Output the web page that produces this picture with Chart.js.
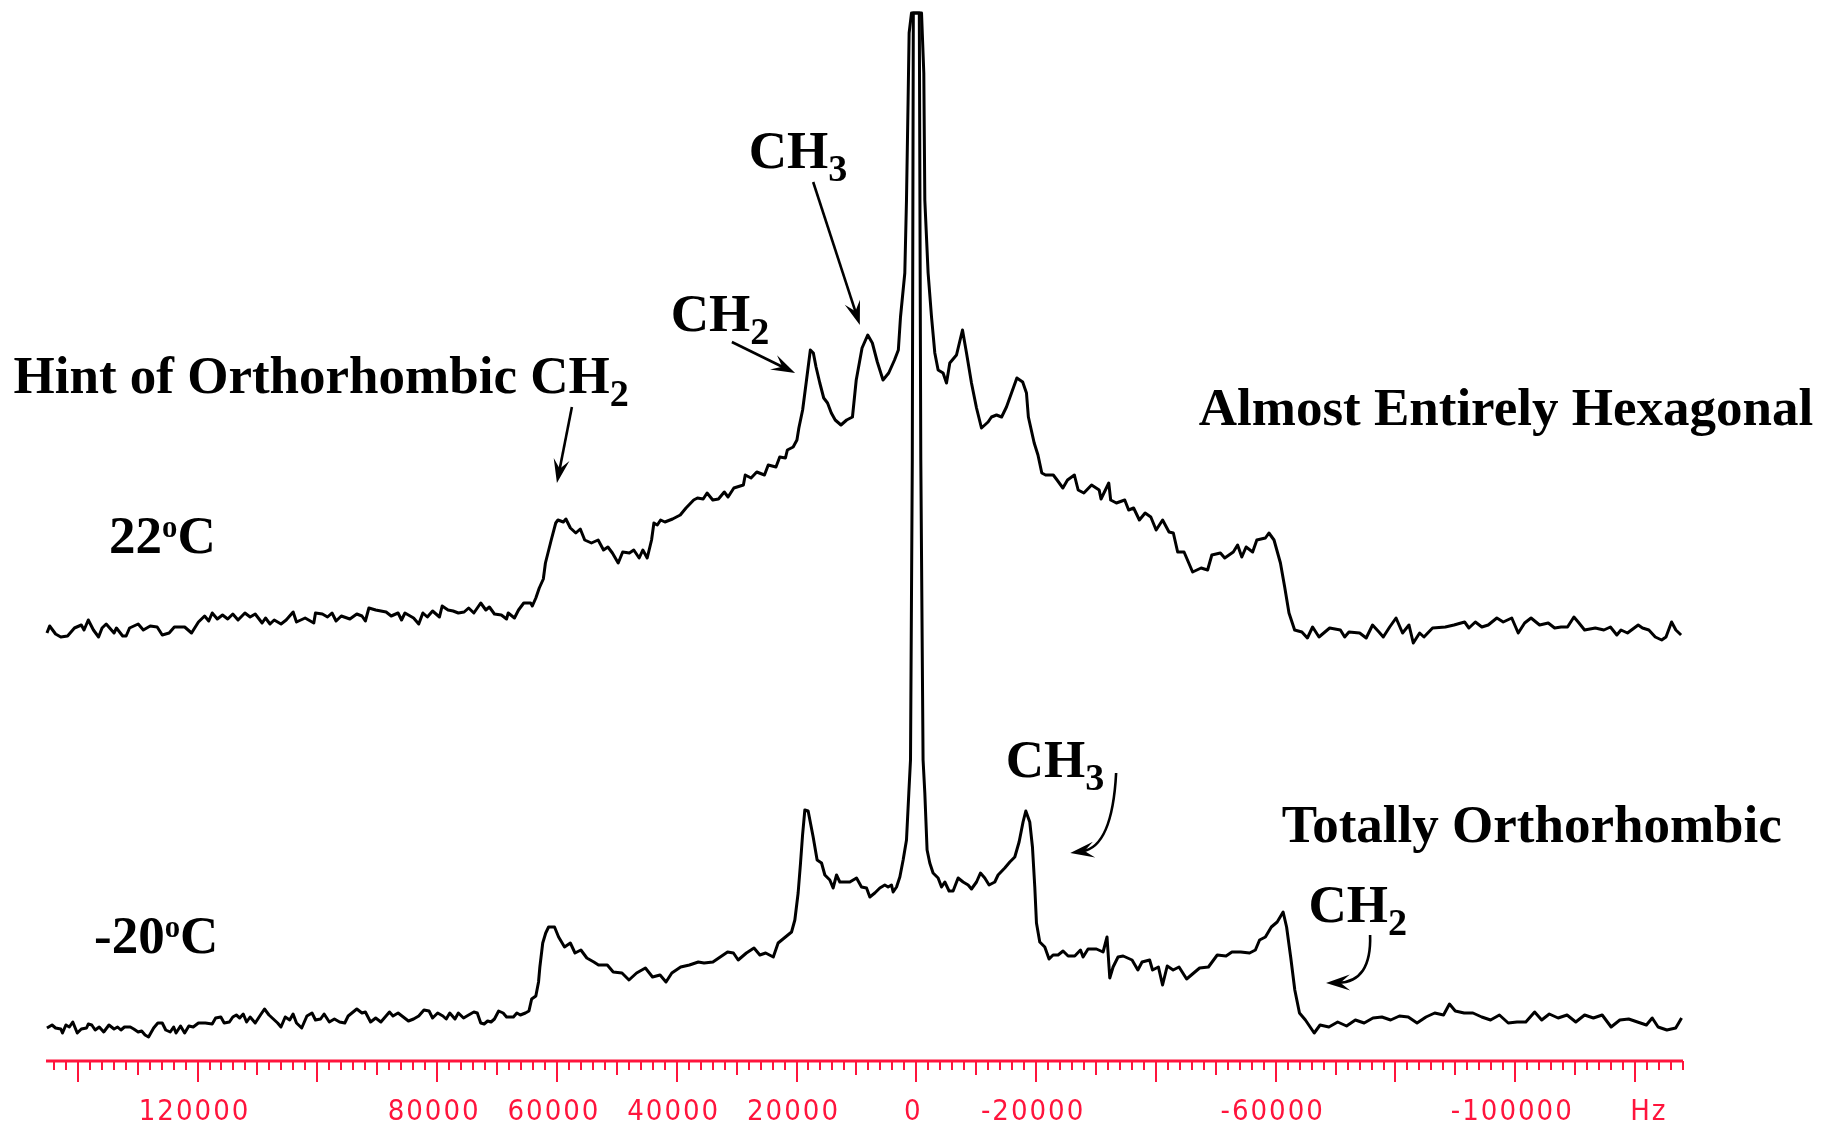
<!DOCTYPE html>
<html>
<head>
<meta charset="utf-8">
<script src="https://cdn.jsdelivr.net/npm/chart.js@4.4.1/dist/chart.umd.min.js"></script>
<style>
html, body { margin: 0; padding: 0; background: #fff; }
canvas { display: block; }
</style>
</head>
<body>
<canvas id="nmrChart" width="1822" height="1126"></canvas>
<script>
// 22 C spectrum (Hz, intensity in plot units)
const hz22 = [145140, 144690, 143700, 142830, 141700, 140550, 139400, 138950, 138240, 137380, 136520, 135940, 135250, 133940, 133540, 132500, 131920, 131350, 129910, 129050, 127900, 126740, 125890, 124740, 123870, 122150, 121000, 119850, 118820, 118130, 117550, 116700, 115830, 114960, 114110, 113240, 112090, 111220, 110370, 109220, 108650, 107900, 107200, 106060, 105200, 104040, 103480, 102040, 100590, 100310, 99160, 98300, 97550, 96870, 96000, 94570, 93410, 92550, 91980, 91390, 90260, 88520, 87670, 86520, 85940, 85370, 83930, 83070, 82380, 81630, 80760, 79610, 79160, 78180, 77330, 76460, 75490, 74740, 73870, 72720, 71870, 71280, 70430, 69280, 68410, 68130, 67090, 66410, 65540, 64390, 64110, 63520, 62950, 62270,
  61920, 60950, 60200, 59830, 58930, 58500, 57750, 56850, 56100, 55360, 54240, 53120, 52220, 51490, 50740, 49770, 49020, 47900, 47170, 46270, 45660, 44930, 44200, 43810, 43240, 42690, 41980, 40690, 39410, 38450, 37170, 36540, 35580, 34930, 33980, 33030, 32060, 31430, 30460, 28870, 28560, 27590, 26640, 25350, 24720, 23430, 22800, 21850, 21530, 20560, 19930, 19610, 18980, 18330, 17690, 17190, 16740, 16110, 15460, 14820, 14190, 13540, 12580, 11630, 10660, 10030, 9060, 8110, 7340, 6510, 5560, 4610, 3640, 3000, 2640, 1920, 1640, 1370, 1200, 800,
  -870, -1250, -1420, -1970, -2540, -3090, -3640, -4470, -5040, -5590, -6710, -7710, -8380, -9210, -10050, -10880, -11980, -12550, -13390, -14240, -15050, -15890, -16790, -17760, -18390, -18710, -19680, -20310, -20950, -21580, -22870, -23500, -24470, -25240, -26390, -27020, -27970, -29260, -30530, -30840, -32130, -32450, -33400, -34800, -35450, -36280, -37240, -38200, -39150,
  -40040, -41120, -42190, -42910, -43630, -44700, -46130, -47550, -48630, -49340, -50770, -51490, -52920, -53640, -54340, -55060, -56150, -56850, -58280, -58870, -59720, -60790, -61500, -62220, -63160, -64370, -65290, -66160, -67230, -69010, -70800, -71520, -72230, -74020, -75110, -76170, -77240, -77960, -79030, -80090, -81180, -82250, -82970, -84030, -84750, -86190, -88320, -89760, -91540, -92260, -93330, -94420, -95480, -96920, -97990, -99410, -100490, -101560, -102630, -104060, -105500, -106570, -107650, -108720, -109790, -110500, -111570, -113360, -114790, -115880, -116950, -117650, -118730, -120520, -121240, -122300, -123370, -124440, -125160, -126090, -126810, -127680]
const int22 = [427, 434, 426, 423, 424, 432, 435, 430, 440, 430, 423, 432, 436, 427, 432, 424, 424, 432, 436, 430, 434, 433, 425, 427, 433, 433, 427, 438, 444, 439, 447, 441, 445, 441, 446, 440, 447, 443, 446, 437, 442, 436, 440, 436, 440, 448, 438, 442, 437, 447, 446, 443, 447, 439, 444, 441, 446, 444, 439, 452, 450, 448, 444, 447, 440, 447, 442, 436, 447, 443, 449, 443, 454, 450, 449, 447, 448, 452, 447, 457, 450, 453, 446, 445, 441, 447, 442, 450, 457, 457, 454, 462, 472, 481,
  497, 520, 537, 540, 538, 541, 532, 527, 531, 520, 517, 520, 510, 513, 507, 497, 508, 507, 510, 502, 510, 502, 520, 537, 535, 540, 538, 541, 545, 552, 560, 562, 561, 567, 560, 561, 568, 563, 572, 575, 585, 582, 588, 585, 595, 593, 603, 602, 610, 613, 620, 632, 650, 680, 710, 707, 693, 677, 662, 657, 647, 640, 635, 640, 643, 680, 712, 725, 717, 698, 680, 687, 700, 710, 743, 787, 860, 960, 1027, 1047,
  1047, 987, 860, 787, 743, 707, 690, 687, 677, 697, 705, 730, 707, 677, 652, 632, 638, 643, 645, 643, 653, 667, 682, 678, 667, 643, 617, 605, 587, 585, 585, 580, 572, 580, 585, 570, 567, 575, 570, 561, 577, 560, 557, 560, 550, 552, 540, 547, 543,
  530, 540, 528, 527, 508, 508, 488, 492, 490, 505, 507, 502, 508, 515, 503, 513, 508, 520, 522, 527, 520, 497, 473, 447, 430, 428, 422, 433, 423, 432, 430, 423, 428, 427, 422, 435, 428, 423, 433, 442, 427, 435, 417, 427, 423, 432, 433, 435, 438, 432, 438, 433, 435, 442, 438, 442, 427, 437, 442, 435, 437, 432, 433, 433, 443, 438, 430, 432, 430, 433, 425, 430, 427, 435, 432, 430, 423, 420, 423, 438, 430, 425]

// -20 C spectrum
const hz20 = [145140, 144290, 143700, 142830, 142550, 141980, 141400, 140830, 140080, 139400, 138530, 138240, 137660, 137090, 136410, 135660, 134790, 133940, 133350, 132790, 132200, 131230, 130650, 129910, 129330, 128760, 128180, 127330, 126630, 125890, 125310, 124560, 123990, 123590, 122840, 122150, 121450, 120720, 119850, 118700, 117550, 116980, 116110, 115550, 114680, 114110, 113530, 112960, 112370, 111810, 111220, 110370, 109500, 108820, 108070, 106630, 106070, 105360, 104610, 104050, 103480, 102610, 101740, 100890, 100310, 99460, 98870, 98000, 97150, 96280, 95420, 94850, 93410, 92550, 91980, 91110, 90260, 89390, 87960, 87370, 86520, 85650, 84790, 83930, 83070, 82200, 81350, 80760, 79910, 79040, 78480, 77890, 77020, 76460, 75590, 74740, 73870, 73300, 72720, 72150, 71570, 71000, 70430, 69730, 68980, 68410, 67260, 66690, 66110, 65260, 64670, 64220, 63520, 63070,
  62850, 62370, 61870, 61390, 60400, 59720, 58730, 57760, 56980, 56000, 55010, 53840, 53060, 51590, 50600, 49140, 47970, 46700, 45230, 44040, 42780, 41790, 40820, 39340, 37870, 36400, 35430, 33960, 32980, 31510, 30530, 29740, 28370, 27100, 26120, 25150, 23880, 23070, 20830, 20280, 19730, 19330, 18990, 18610, 18060, 17220, 16560, 15820, 15270, 14440, 13890, 13320, 12770, 11100, 9980, 9150, 8310, 7760, 6930, 6090, 5260, 4710, 4140, 3870, 3300, 2750, 2200, 1640, 1250, 970, 670, 500,
  -500, -750, -1130, -1420, -1800, -2250, -2800, -3640, -4210, -4760, -5470, -6140, -6980, -7810, -8650, -9210, -10050, -10710, -11430, -12150, -13100, -13650, -14770, -15610, -16440, -17160, -17820, -18280, -18940, -19390, -19780, -20060, -20610, -21450, -22160, -22830, -23670, -24500, -25340, -26450, -27410, -27840, -28670, -30070, -31180, -31840, -32300, -32850, -33680, -34530, -36020, -36990, -37690, -38950, -39440, -40420, -41110, -41890, -42880, -43860, -45130, -46310, -47300, -48770, -50240, -51710, -52690, -54160, -55640, -56610, -57310, -58280, -59270, -60250, -61240, -61820, -62500, -63190, -63970, -64960, -66430, -67410, -68880, -70350, -71830, -73300, -74770, -76240, -77730, -79190, -80660, -82130, -83600, -85090, -86550, -88020, -89010, -89980, -91460, -92930, -94400, -95870, -97350, -98820, -100290, -101760, -103230, -104410, -105680, -107150, -108640, -110100, -111570, -113040, -114510, -116000, -117460, -118930, -120400, -121890, -122860, -123840, -125310, -126780, -127280, -127760]
const int20 = [32, 35, 32, 31, 27, 35, 33, 38, 27, 31, 32, 36, 35, 30, 33, 28, 35, 31, 33, 30, 33, 33, 31, 28, 29, 25, 23, 32, 37, 37, 30, 28, 33, 27, 34, 27, 34, 33, 37, 37, 36, 42, 43, 37, 38, 43, 45, 42, 46, 38, 43, 37, 45, 51, 45, 37, 33, 43, 40, 46, 37, 32, 44, 47, 40, 41, 46, 38, 41, 38, 37, 44, 51, 47, 48, 38, 42, 38, 48, 44, 47, 43, 39, 41, 44, 50, 49, 42, 47, 44, 41, 47, 41, 47, 42, 45, 48, 47, 37, 36, 39, 38, 41, 49, 47, 43, 43, 47, 45, 47, 49, 61, 64, 78,
  93, 117, 127, 133, 133, 123, 113, 117, 107, 110, 102, 98, 95, 95, 88, 87, 80, 87, 92, 83, 85, 78, 87, 93, 95, 98, 97, 98, 102, 108, 107, 100, 107, 112, 105, 107, 103, 117, 128, 140, 167, 197, 225, 250, 249, 223, 200, 197, 185, 180, 172, 185, 178, 178, 182, 173, 172, 163, 167, 172, 175, 173, 175, 168, 173, 183, 200, 220, 267, 300, 600, 1047,
  1047, 600, 300, 267, 210, 197, 187, 182, 173, 178, 169, 169, 182, 178, 175, 171, 178, 187, 182, 175, 178, 185, 192, 198, 203, 218, 238, 249, 238, 213, 173, 137, 118, 113, 101, 105, 105, 109, 104, 104, 110, 103, 111, 111, 108, 123, 82, 93, 103, 104, 100, 90, 98, 100, 90, 93, 75, 94, 90, 93, 81, 87, 92, 93, 105, 104, 108, 108, 107, 110, 120, 123, 133, 138, 148, 133, 103, 70, 47, 40, 27, 35, 33, 38, 34, 40, 37, 42, 43, 40, 44, 43, 37, 43, 47, 45, 56, 49, 47, 47, 43, 40, 45, 37, 38, 38, 48, 40, 46, 42, 45, 38, 45, 42, 45, 33, 40, 41, 38, 35, 42, 33, 30, 32, 37, 42]

// axis labels (Hz)
const labelTicks = [120000, 80000, 60000, 40000, 20000, 0, -20000, -60000, -100000]

const axisRed = '#ff143c'

// annotations, anchored in data units (Hz, intensity)
const textNotes = [
  { parts: [['Hint of Orthorhombic CH'], ['2', 'sub']], hz: 150730, h: 667 },
  { parts: [['CH'], ['2', 'sub']], hz: 41010, h: 729 },
  { parts: [['CH'], ['3', 'sub']], hz: 27960, h: 892 },
  { parts: [['22'], ['o', 'sup'], ['C']], hz: 134770, h: 507 },
  { parts: [['-20'], ['o', 'sup'], ['C']], hz: 137280, h: 107 },
  { parts: [['Almost Entirely Hexagonal']], hz: -47150, h: 635 },
  { parts: [['Totally Orthorhombic']], hz: -61000, h: 218 },
  { parts: [['CH'], ['3', 'sub']], hz: -14940, h: 283 },
  { parts: [['CH'], ['2', 'sub']], hz: -65460, h: 138 }
]
const arrowNotes = [
  { from: [57500, 653], to: [60000, 577] },
  { from: [30790, 718], to: [20240, 687] },
  { from: [17220, 878], to: [9430, 735] },
  { from: [-33360, 287], ctrl: [-32710, 213], to: [-25700, 207] },
  { from: [-75760, 125], ctrl: [-76020, 78], to: [-68400, 77] }
]

function drawRich(ctx, parts, px, py, size) {
  let cx = px
  parts.forEach(([t, kind]) => {
    let s = size, dy = 0
    if (kind == 'sub') { s = size * 0.72; dy = size * 0.25 }
    if (kind == 'sup') { s = size * 0.58; dy = -size * 0.31 }
    ctx.font = 'bold ' + s + 'px "Liberation Serif"'
    ctx.fillText(t, cx, py + dy)
    cx += ctx.measureText(t).width
  })
}

function drawHead(ctx, tx, ty, ang, len, half) {
  const c = Math.cos(ang), s = Math.sin(ang)
  ctx.beginPath()
  ctx.moveTo(tx, ty)
  ctx.lineTo(tx - len * c + half * s, ty - len * s - half * c)
  ctx.lineTo(tx - len * 0.6 * c, ty - len * 0.6 * s)
  ctx.lineTo(tx - len * c - half * s, ty - len * s + half * c)
  ctx.closePath()
  ctx.fill()
}

const spectrumDecor = {
  id: 'spectrumDecor',
  afterDatasetsDraw(chart) {
    const { ctx, chartArea, scales: { x, y } } = chart
    ctx.save()
    // frequency axis
    ctx.strokeStyle = axisRed
    ctx.lineWidth = 3
    ctx.beginPath()
    ctx.moveTo(chartArea.left, chartArea.bottom)
    ctx.lineTo(chartArea.right, chartArea.bottom)
    ctx.stroke()
    ctx.lineWidth = 2
    for (let v = -128000; v <= 144000; v += 2000) {
      let len = 9
      if (v % 20000 === 0) len = 21
      else if (v % 10000 === 0) len = 14
      const px = Math.round(x.getPixelForValue(v))
      ctx.beginPath()
      ctx.moveTo(px, chartArea.bottom)
      ctx.lineTo(px, chartArea.bottom + len)
      ctx.stroke()
    }
    ctx.fillStyle = axisRed
    ctx.font = '29px "DejaVu Sans Condensed", "DejaVu Sans"'
    ctx.letterSpacing = '2px'
    ctx.textAlign = 'center'
    ctx.textBaseline = 'alphabetic'
    labelTicks.forEach(v => {
      ctx.fillText(String(v), x.getPixelForValue(v) - 3, chartArea.bottom + 59)
    })
    ctx.fillText('Hz', x.getPixelForValue(-122300), chartArea.bottom + 59)
    ctx.letterSpacing = '0px'

    // labels
    ctx.fillStyle = '#000'
    ctx.textAlign = 'left'
    textNotes.forEach(n => {
      drawRich(ctx, n.parts, x.getPixelForValue(n.hz), y.getPixelForValue(n.h), 53)
    })

    // arrows
    ctx.strokeStyle = '#000'
    ctx.lineWidth = 2.6
    arrowNotes.forEach(a => {
      const x0 = x.getPixelForValue(a.from[0]), y0 = y.getPixelForValue(a.from[1])
      const x1 = x.getPixelForValue(a.to[0]), y1 = y.getPixelForValue(a.to[1])
      let ang
      ctx.beginPath()
      ctx.moveTo(x0, y0)
      if (a.ctrl) {
        const cx = x.getPixelForValue(a.ctrl[0]), cy = y.getPixelForValue(a.ctrl[1])
        ang = Math.atan2(y1 - cy, x1 - cx)
        ctx.quadraticCurveTo(cx, cy, x1 - 12 * Math.cos(ang), y1 - 12 * Math.sin(ang))
      } else {
        ang = Math.atan2(y1 - y0, x1 - x0)
        ctx.lineTo(x1 - 12 * Math.cos(ang), y1 - 12 * Math.sin(ang))
      }
      ctx.stroke()
      drawHead(ctx, x1, y1, ang, 24, 8)
    })
    ctx.restore()
  }
}

new Chart('nmrChart', {
  type: 'line',
  data: {
    datasets: [
      {
        label: '22 C',
        data: hz22.map((v, i) => ({ x: v, y: int22[i] })),
        borderColor: '#000',
        borderWidth: 3,
        borderJoinStyle: 'round',
        pointRadius: 0,
        tension: 0,
        clip: false
      },
      {
        label: '-20 C',
        data: hz20.map((v, i) => ({ x: v, y: int20[i] })),
        borderColor: '#000',
        borderWidth: 3,
        borderJoinStyle: 'round',
        pointRadius: 0,
        tension: 0,
        clip: false
      }
    ]
  },
  options: {
    responsive: false,
    animation: false,
    devicePixelRatio: 1,
    layout: { padding: { left: 46, right: 139, top: 13, bottom: 65 } },
    plugins: {
      legend: { display: false },
      tooltip: { enabled: false }
    },
    scales: {
      x: { type: 'linear', reverse: true, min: -128000, max: 145300, display: false },
      y: { type: 'linear', min: -1, max: 1047, display: false }
    }
  },
  plugins: [spectrumDecor]
})
</script>
</body>
</html>
